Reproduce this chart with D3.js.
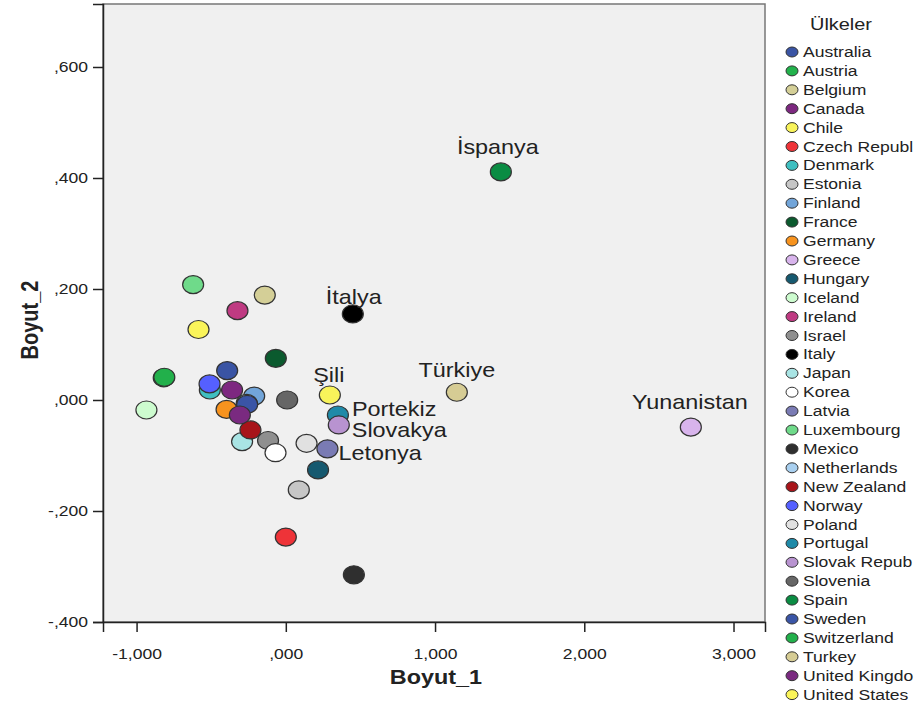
<!DOCTYPE html>
<html>
<head>
<meta charset="utf-8">
<script src="https://cdn.jsdelivr.net/npm/d3@7"></script>
<style>
    body { margin: 0; background: #fff; }
    svg { display: block; }
    text { font-family: "Liberation Sans", Arial, sans-serif; fill: #222; }
</style>
</head>
<body>
<svg id="chart" width="917" height="707"></svg>
<script>
// legend names as shown (truncated like the source)
var countries = ["Australia", "Austria", "Belgium", "Canada", "Chile", "Czech Republ", "Denmark",
    "Estonia", "Finland", "France", "Germany", "Greece", "Hungary", "Iceland", "Ireland", "Israel",
    "Italy", "Japan", "Korea", "Latvia", "Luxembourg", "Mexico", "Netherlands", "New Zealand",
    "Norway", "Poland", "Portugal", "Slovak Repub", "Slovenia", "Spain", "Sweden", "Switzerland",
    "Turkey", "United Kingdo", "United States"];

var boyut1 = [-0.393, -0.818, -0.141, -0.360, 0.295, 0.000, -0.509,
    0.087, -0.212, -0.067, -0.397, 2.714, 0.216, -0.934, -0.324, -0.119,
    0.449, -0.293, -0.069, 0.279, -0.621, 0.456, -0.262, -0.237,
    -0.511, 0.139, 0.349, 0.355, 0.009, 1.441, -0.259, -0.814,
    1.146, -0.308, -0.585];

var boyut2 = [0.053, 0.040, 0.189, 0.018, 0.009, -0.247, 0.018,
    -0.162, 0.007, 0.075, -0.017, -0.049, -0.126, -0.018, 0.161, -0.073,
    0.155, -0.075, -0.095, -0.088, 0.208, -0.315, -0.006, -0.054,
    0.029, -0.078, -0.027, -0.045, 0.000, 0.411, -0.008, 0.041,
    0.014, -0.027, 0.127];

var colors = ["#3a54a4", "#22b24c", "#d4cf97", "#7d2880", "#f8f35a", "#ee3338", "#3fbfc0",
    "#c6c6c6", "#72a5d9", "#0b5a2e", "#f7931e", "#d8b4ec", "#16596f", "#cdfccf", "#bf3a82", "#8f8f8f",
    "#000000", "#a9e4e4", "#ffffff", "#7a7bb4", "#6fda8a", "#2f2f2f", "#a9d0f0", "#a8141a",
    "#5560ff", "#e1e1e1", "#1f8aa8", "#b893d0", "#666666", "#0a8c43", "#3a55a6", "#22b04b",
    "#d6cc94", "#7a2a80", "#faf45a"];

// point annotations (Turkish names)
var labelFor = ["Spain", "Greece", "Turkey", "Italy", "Chile", "Portugal", "Slovak Repub", "Latvia"];
var labelText = ["İspanya", "Yunanistan", "Türkiye", "İtalya", "Şili", "Portekiz", "Slovakya", "Letonya"];

var xTicks = [-1, 0, 1, 2, 3];
var yTicks = [-0.4, -0.2, 0, 0.2, 0.4, 0.6];

var data = countries.map(function (c, i) {
    return {name: c, x: boyut1[i], y: boyut2[i], color: colors[i]};
});

// the original picture is stretched horizontally
var stretch = 1.17;

var svg = d3.select("#chart"),
    plot = {left: 103, right: 765, top: 4, bottom: 622};

var x = d3.scaleLinear().domain([-1.225, 3.211]).range([plot.left, plot.right]),
    y = d3.scaleLinear().domain([-0.4, 0.7135]).range([plot.bottom, plot.top]);

// SPSS style: comma decimal, no leading zero, plain hyphen
function fmt(v) {
    return d3.format(".3f")(v)
        .replace("\u2212", "-")
        .replace(/^(-?)0\./, "$1.")
        .replace(".", ",");
}

// plot background + frame
svg.append("rect")
    .attr("x", plot.left)
    .attr("y", plot.top)
    .attr("width", plot.right - plot.left)
    .attr("height", plot.bottom - plot.top)
    .attr("fill", "#f0f0f0")
    .attr("stroke", "#777")
    .attr("stroke-width", 1.5);

// axes
var yAxis = svg.append("g")
    .attr("class", "axis axis--y")
    .attr("transform", "translate(" + plot.left + ",0)")
    .call(d3.axisLeft(y).tickValues(yTicks).tickFormat(fmt).tickSize(10).tickPadding(5));

var xAxis = svg.append("g")
    .attr("class", "axis axis--x")
    .attr("transform", "translate(0," + plot.bottom + ")")
    .call(d3.axisBottom(x).tickValues(xTicks).tickFormat(fmt).tickSize(10).tickPadding(16));

svg.selectAll(".axis path")
    .attr("stroke", "#222")
    .attr("stroke-width", 1.5);
svg.selectAll(".axis line")
    .attr("stroke", "#222")
    .attr("stroke-width", 1.5);
svg.selectAll(".axis text")
    .attr("font-family", "Liberation Sans, Arial, sans-serif")
    .attr("font-size", "15px")
    .attr("fill", "#222");

yAxis.selectAll("text")
    .attr("x", -15 / stretch)
    .attr("transform", "scale(" + stretch + ",1)");
xAxis.selectAll("text")
    .attr("transform", "scale(" + stretch + ",1)");

// axis titles
svg.append("g")
    .attr("transform", "translate(436,684) scale(" + stretch + ",1)")
    .append("text")
    .attr("text-anchor", "middle")
    .attr("font-size", "20px")
    .attr("font-weight", "bold")
    .attr("fill", "#111")
    .text("Boyut_1");

svg.append("g")
    .attr("transform", "translate(38,320) scale(" + stretch + ",1) rotate(-90)")
    .append("text")
    .attr("text-anchor", "middle")
    .attr("font-size", "20px")
    .attr("font-weight", "bold")
    .attr("fill", "#111")
    .text("Boyut_2");

// points
svg.append("g")
    .selectAll("ellipse")
    .data(data)
    .enter()
    .append("ellipse")
    .attr("cx", function (d) { return x(d.x); })
    .attr("cy", function (d) { return y(d.y); })
    .attr("rx", 10.5)
    .attr("ry", 9)
    .attr("fill", function (d) { return d.color; })
    .attr("stroke", "#333")
    .attr("stroke-width", 1.2);

// point labels: offsets in px from the point, anchor
var labelPlace = {
    "Spain": [-3, -18, "middle"],
    "Greece": [-1, -18, "middle"],
    "Turkey": [0, -15, "middle"],
    "Italy": [1, -10, "middle"],
    "Chile": [-1, -13, "middle"],
    "Portugal": [14, 1, "start"],
    "Slovak Repub": [13, 12, "start"],
    "Latvia": [11, 11, "start"]
};

var labels = labelFor.map(function (c, i) {
    var d = data[countries.indexOf(c)];
    return {d: d, text: labelText[i], place: labelPlace[c]};
});

svg.append("g")
    .selectAll("g")
    .data(labels)
    .enter()
    .append("g")
    .attr("transform", function (l) {
        return "translate(" + (x(l.d.x) + l.place[0]) + "," + (y(l.d.y) + l.place[1]) + ") scale(" + stretch + ",1)";
    })
    .append("text")
    .attr("text-anchor", function (l) { return l.place[2]; })
    .attr("font-size", "20px")
    .attr("fill", "#222")
    .text(function (l) { return l.text; });

// legend
var legend = svg.append("g")
    .attr("transform", "translate(792,52)");

legend.append("g")
    .attr("transform", "translate(49,-22) scale(" + stretch + ",1)")
    .append("text")
    .attr("text-anchor", "middle")
    .attr("font-size", "17px")
    .attr("fill", "#222")
    .text("Ülkeler");

var items = legend.selectAll(".legend-item")
    .data(data)
    .enter()
    .append("g")
    .attr("class", "legend-item")
    .attr("transform", function (d, i) {
        return "translate(0," + (i * 18.9) + ")";
    });

items.append("ellipse")
    .attr("rx", 6)
    .attr("ry", 5)
    .attr("fill", function (d) { return d.color; })
    .attr("stroke", "#333")
    .attr("stroke-width", 1);

items.append("g")
    .attr("transform", "translate(11,5) scale(" + stretch + ",1)")
    .append("text")
    .attr("font-size", "15px")
    .attr("fill", "#222")
    .text(function (d) { return d.name; });
</script>
</body>
</html>
